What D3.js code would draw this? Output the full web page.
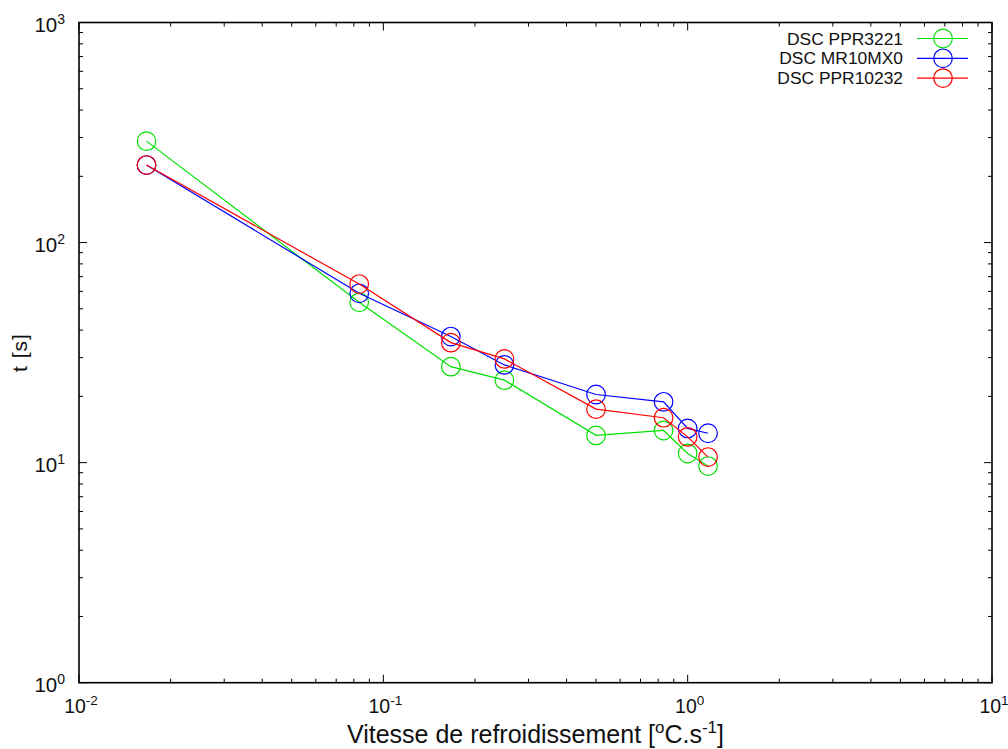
<!DOCTYPE html>
<html>
<head>
<meta charset="utf-8">
<script src="https://cdn.jsdelivr.net/npm/d3@7"></script>
<style>
  body { margin: 0; background: #fff; }
  svg { display: block; font-family: "Liberation Sans", Arial, sans-serif; }
</style>
</head>
<body>
<div id="chart"></div>
<script>
// cooling rates (°C/s) : 1, 5, 10, 15, 30, 50, 60, 70 °C/min
const rates = [1 / 60, 5 / 60, 10 / 60, 15 / 60, 30 / 60, 50 / 60, 60 / 60, 70 / 60];

const seriesNames = ["DSC PPR3221", "DSC MR10MX0", "DSC PPR10232"];
const ppr3221 = [289, 53.5, 27.3, 23.7, 13.3, 14.0, 11.0, 9.65];
const mr10mx0 = [225, 58.8, 37.4, 27.8, 20.4, 18.9, 14.3, 13.6];
const ppr10232 = [225, 64.8, 35.1, 29.6, 17.5, 16.0, 13.1, 10.6];
const seriesColors = ["#00e000", "#0000ff", "#ff0000"];

const xTicks = [1e-2, 1e-1, 1e0, 1e1];
const xTickExp = ["-2", "-1", "0", "1"];
const yTicks = [1e0, 1e1, 1e2, 1e3];
const yTickExp = ["0", "1", "2", "3"];

const w = 1008;
const h = 749;
const plotL = 79, plotR = 992, plotT = 22.5, plotB = 682.7;

const x = d3.scaleLog().domain([1e-2, 1e1]).range([plotL, plotR]);
const y = d3.scaleLog().domain([1e0, 1e3]).range([plotB, plotT]);

const svg = d3.select("#chart").append("svg")
    .attr("width", w)
    .attr("height", h);

// minor ticks (2..9 in every decade)
const minorX = [];
for (let e = -2; e < 1; e++) for (let m = 2; m <= 9; m++) minorX.push(m * Math.pow(10, e));
const minorY = [];
for (let e = 0; e < 3; e++) for (let m = 2; m <= 9; m++) minorY.push(m * Math.pow(10, e));

const tickG = svg.append("g").attr("stroke", "#000").attr("stroke-width", 1);
// x ticks, bottom and top, pointing inward
xTicks.concat(minorX).forEach((v) => {
  const len = xTicks.includes(v) ? 8 : 4;
  const px = x(v);
  tickG.append("line").attr("x1", px).attr("x2", px).attr("y1", plotB).attr("y2", plotB - len);
  tickG.append("line").attr("x1", px).attr("x2", px).attr("y1", plotT).attr("y2", plotT + len);
});
yTicks.concat(minorY).forEach((v) => {
  const len = yTicks.includes(v) ? 8 : 4;
  const py = y(v);
  tickG.append("line").attr("x1", plotL).attr("x2", plotL + len).attr("y1", py).attr("y2", py);
  tickG.append("line").attr("x1", plotR).attr("x2", plotR - len).attr("y1", py).attr("y2", py);
});

// frame
svg.append("rect")
    .attr("x", plotL).attr("y", plotT)
    .attr("width", plotR - plotL).attr("height", plotB - plotT)
    .attr("fill", "none").attr("stroke", "#000").attr("stroke-width", 1.6);

// tick labels
const xLab = svg.append("g").attr("font-size", 19.5).attr("fill", "#111");
xTicks.forEach((v, i) => {
  const t = xLab.append("text")
      .attr("x", x(v) + 2).attr("y", 712.5)
      .attr("text-anchor", "middle");
  t.append("tspan").text("10");
  t.append("tspan").attr("dy", -8).attr("font-size", 13.5).text(xTickExp[i]);
});
const yLab = svg.append("g").attr("font-size", 20.5).attr("fill", "#111");
yTicks.forEach((v, i) => {
  const t = yLab.append("text")
      .attr("x", 65).attr("y", y(v) + 9.5)
      .attr("text-anchor", "end");
  t.append("tspan").text("10");
  t.append("tspan").attr("dy", -8).attr("font-size", 14).text(yTickExp[i]);
});

// axis titles
const xt = svg.append("text")
    .attr("x", (plotL + plotR) / 2).attr("y", 742.5)
    .attr("text-anchor", "middle")
    .attr("font-size", 25).attr("fill", "#111");
xt.append("tspan").text("Vitesse de refroidissement [");
xt.append("tspan").attr("dy", -10).attr("font-size", 17).text("o");
xt.append("tspan").attr("dy", 10).text("C.s");
xt.append("tspan").attr("dy", -10).attr("font-size", 17).text("-1");
xt.append("tspan").attr("dy", 10).text("]");

svg.append("text")
    .attr("transform", `translate(27,${(plotT + plotB) / 2}) rotate(-90)`)
    .attr("text-anchor", "middle")
    .attr("font-size", 21).attr("letter-spacing", 1)
    .attr("fill", "#111")
    .text("t [s]");

// series
const allSeries = [ppr3221, mr10mx0, ppr10232];
const line = d3.line()
    .x((d) => x(d[0]))
    .y((d) => y(d[1]));

allSeries.forEach((vals, i) => {
  const pts = rates.map((r, j) => [r, vals[j]]);
  const g = svg.append("g");
  g.append("path")
      .attr("d", line(pts))
      .attr("fill", "none")
      .attr("stroke", seriesColors[i])
      .attr("stroke-width", 1.2);
  g.selectAll("circle")
      .data(pts)
      .enter()
      .append("circle")
      .attr("cx", (d) => x(d[0]))
      .attr("cy", (d) => y(d[1]))
      .attr("r", 9.3)
      .attr("fill", "none")
      .attr("stroke", seriesColors[i])
      .attr("stroke-width", 1.2);
});

// legend
const legend = svg.append("g");
seriesNames.forEach((name, i) => {
  const ly = 38.5 + i * 19.8;
  legend.append("text")
      .attr("x", 903).attr("y", ly + 6)
      .attr("text-anchor", "end")
      .attr("font-size", 17.4).attr("fill", "#111")
      .text(name);
  legend.append("line")
      .attr("x1", 917).attr("x2", 968).attr("y1", ly).attr("y2", ly)
      .attr("stroke", seriesColors[i]).attr("stroke-width", 1.2);
  legend.append("circle")
      .attr("cx", 943).attr("cy", ly).attr("r", 9.3)
      .attr("fill", "none")
      .attr("stroke", seriesColors[i]).attr("stroke-width", 1.2);
});
</script>
</body>
</html>
